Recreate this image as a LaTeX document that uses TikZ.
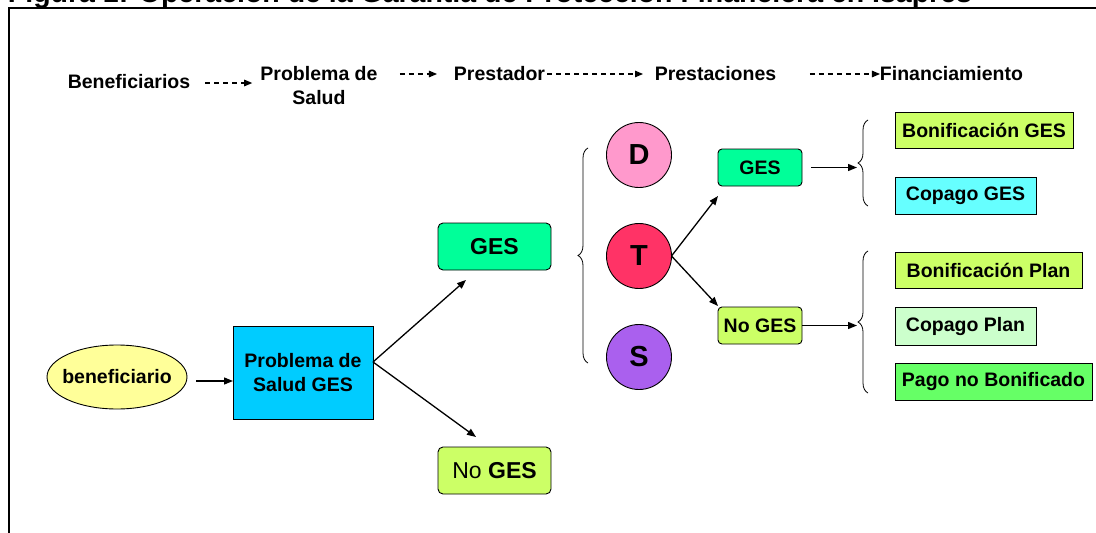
\documentclass[tikz,border=0pt]{standalone}
\usepackage{fontspec}
\setmainfont{Liberation Sans}
\usetikzlibrary{shapes.geometric,decorations.pathreplacing,arrows.meta,calc}
\definecolor{cEll}{HTML}{FFFF99}
\definecolor{cPSG}{HTML}{00CCFF}
\definecolor{cGES}{HTML}{00FF99}
\definecolor{cNoGES}{HTML}{CCFF66}
\definecolor{cD}{HTML}{FF99CC}
\definecolor{cT}{HTML}{FF3366}
\definecolor{cS}{HTML}{AA60EE}
\definecolor{cCopGES}{HTML}{66FFFF}
\definecolor{cCopPlan}{HTML}{CCFFCC}
\definecolor{cPago}{HTML}{66FF66}
\begin{document}
\begin{tikzpicture}[x=1pt,y=-1pt,
  every node/.style={font=\fontsize{19.5}{24}\selectfont\bfseries, inner sep=0pt, outer sep=0pt},
  titletext/.style={font=\fontsize{28.5}{30}\selectfont\bfseries, anchor=base west},
  hdr/.style={anchor=center},
  rbox/.style={draw, line width=0.9pt, rounded corners=5pt},
  sbox/.style={draw, line width=1pt},
  circ/.style={circle, draw, line width=0.9pt, minimum size=65pt, font=\fontsize{29}{30}\selectfont\bfseries},
  conn/.style={line width=1.3pt, -{Triangle[length=9pt,width=7pt]}},
  dconn/.style={line width=1.1pt, dash pattern=on 5pt off 4pt, -{Triangle[length=8pt,width=6.5pt]}},
  brc/.style={decorate, decoration={brace, amplitude=10pt}, line width=0.8pt}
]
\useasboundingbox (0,0) rectangle (1096,533);

% title and frame
\node[titletext] (title) at (8,2) {Figura 1: Operación de la Garantía de Protección Financiera en Isapres};
\draw[line width=1.3pt] (9,533) -- (9,8) -- (1096,8);

% header
\node[hdr] (hBen) at (129,82) {Beneficiarios};
\node[hdr, align=center] (hPS) at (319,86) {Problema de\\Salud};
\node[hdr] (hPre) at (499.5,74) {Prestador};
\node[hdr] (hPrs) at (715.5,74) {Prestaciones};
\node[hdr] (hFin) at (951.5,74) {Financiamiento};
\draw[dconn] ([xshift=15pt,yshift=-1pt]hBen.east) -- ++(47,0);
\draw[dconn] ([xshift=-54pt]hPre.west) -- ++(37,0);
\draw[dconn] ([xshift=2pt]hPre.east) -- ++(96,0);
\draw[dconn] ([xshift=-70pt]hFin.west) -- (hFin.west);

% left part
\node[ellipse, draw, line width=0.9pt, fill=cEll, minimum width=140pt, minimum height=64pt] (ben) at (117,377) {\makebox[0pt]{beneficiario}};
\node[sbox, fill=cPSG, minimum width=140pt, minimum height=93pt, align=center] (psg) at (303,372.5) {Problema de\\Salud GES};
\node[rbox, fill=cGES, minimum width=113pt, minimum height=47pt, font=\fontsize{23}{24}\selectfont\bfseries] (gesbig) at (494.5,246.5) {GES};
\node[rbox, fill=cNoGES, minimum width=113pt, minimum height=47pt, font=\fontsize{23}{24}\selectfont] (nogesbig) at (494.5,470.5) {No \textbf{GES}};

\draw[conn] ($(ben.east)+(9,4)$) -- ($(psg.west)+(0,8.5)$);
\draw[conn] ($(psg.east)+(0,-10.5)$) -- ($(gesbig.south west)+(28,10)$);
\draw[conn] ($(psg.east)+(0,-10.5)$) -- ($(nogesbig.north west)+(38,-10)$);

% brace and circles
\coordinate (b0top) at (588,148);
\coordinate (b0bot) at (588,363);
\draw[brc] (b0bot) -- (b0top);
\node[circ, fill=cD] (D) at (639,155) {D};
\node[circ, fill=cT] (T) at (639,256) {T};
\node[circ, fill=cS] (S) at (639,357) {S};

% small boxes
\node[rbox, rounded corners=4pt, fill=cGES, minimum width=84pt, minimum height=37pt] (sges) at (760,167.5) {GES};
\node[rbox, rounded corners=4pt, fill=cNoGES, minimum width=84pt, minimum height=37pt] (snoges) at (760,325.5) {No GES};
\draw[conn] (T.east) -- ($(sges.south west)+(0,10)$);
\draw[conn] (T.east) -- ($(snoges.north west)+(0,-1)$);

% right braces
\coordinate (b1top) at (868,120);
\coordinate (b1bot) at (868,206);
\coordinate (b1tip) at (857,167.5);
\coordinate (b2top) at (868,251);
\coordinate (b2bot) at (868,393);
\coordinate (b2tip) at (857,325.5);
\draw[brc] (b1bot) -- (b1top);
\draw[brc] (b2bot) -- (b2top);
\draw[conn] ($(sges.east)+(9,0)$) -- (b1tip);
\draw[conn] (snoges.east) -- (b2tip);

% financing boxes
\node[sbox, fill=cNoGES, minimum width=178pt, minimum height=36pt] (bges) at (984,130) {Bonificación GES};
\node[sbox, fill=cCopGES, minimum width=141pt, minimum height=37pt] (cges) at (965.5,195.5) {Copago GES};
\node[sbox, fill=cNoGES, minimum width=187pt, minimum height=36pt] (bplan) at (988.5,270) {Bonificación Plan};
\node[sbox, fill=cCopPlan, minimum width=141pt, minimum height=38pt] (cplan) at (965.5,326) {Copago Plan};
\node[sbox, fill=cPago, minimum width=197pt, minimum height=37pt] (pago) at (993.5,381.5) {Pago no Bonificado};
\end{tikzpicture}
\end{document}
